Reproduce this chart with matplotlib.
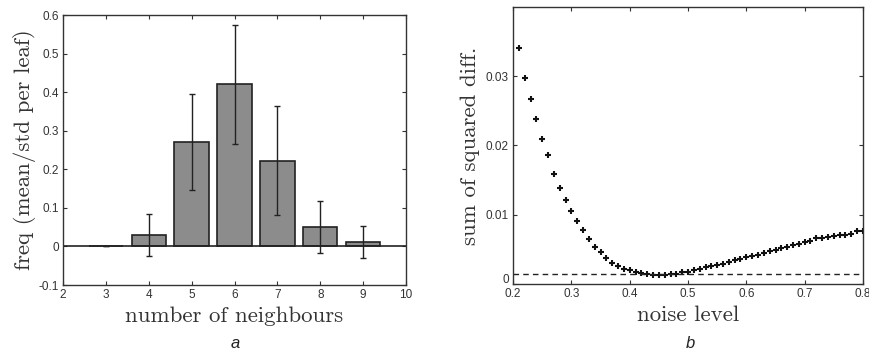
import matplotlib
matplotlib.use("Agg")
import matplotlib.pyplot as plt
from matplotlib.transforms import ScaledTranslation

# panel a: neighbour counts
neighbours = [3, 4, 5, 6, 7, 8, 9]
freq_mean = [0.0, 0.03, 0.27, 0.42, 0.222, 0.05, 0.012]
freq_std = [0.0, 0.055, 0.125, 0.155, 0.141, 0.068, 0.042]

# panel b: noise level scan
noise = [0.21, 0.22, 0.23, 0.24, 0.25, 0.26, 0.27, 0.28, 0.29, 0.30,
         0.31, 0.32, 0.33, 0.34, 0.35, 0.36, 0.37, 0.38, 0.39, 0.40,
         0.41, 0.42, 0.43, 0.44, 0.45, 0.46, 0.47, 0.48, 0.49, 0.50,
         0.51, 0.52, 0.53, 0.54, 0.55, 0.56, 0.57, 0.58, 0.59, 0.60,
         0.61, 0.62, 0.63, 0.64, 0.65, 0.66, 0.67, 0.68, 0.69, 0.70,
         0.71, 0.72, 0.73, 0.74, 0.75, 0.76, 0.77, 0.78, 0.79, 0.80]
sq_diff = [0.0341, 0.0298, 0.0267, 0.0238, 0.0210, 0.0186, 0.0159, 0.0139, 0.0122, 0.0106,
           0.0091, 0.0078, 0.0065, 0.0054, 0.0046, 0.0038, 0.0031, 0.0026, 0.0022, 0.0020,
           0.0018, 0.0016, 0.0014, 0.0013, 0.0013, 0.0013, 0.0014, 0.0015, 0.0017, 0.0018,
           0.0020, 0.0022, 0.0024, 0.0026, 0.0028, 0.0029, 0.0032, 0.0034, 0.0036, 0.0039,
           0.0040, 0.0042, 0.0045, 0.0047, 0.0049, 0.0052, 0.0054, 0.0056, 0.0058, 0.0061,
           0.0062, 0.0066, 0.0067, 0.0068, 0.0070, 0.0071, 0.0071, 0.0072, 0.0077, 0.0076]
baseline = 0.0014

tick_font = dict(family="Liberation Sans", size=8.5, color="#333333")
label_font = dict(family="cmr10", size=16.5, color="#333333")

fig = plt.figure(figsize=(8.69, 3.52), dpi=100)
ax_a = fig.add_axes([63 / 869, 67 / 352, 343 / 869, 270 / 352])
ax_b = fig.add_axes([513 / 869, 68 / 352, 350 / 869, 277 / 352])

for ax in (ax_a, ax_b):
    ax.tick_params(direction="in", top=True, right=True, length=3,
                   width=0.8, color="#333333", pad=3)
    for sp in ax.spines.values():
        sp.set_color("#333333")
        sp.set_linewidth(1.0)

# panel a
ax_a.bar(neighbours, freq_mean, width=0.8, color="#8c8c8c",
         edgecolor="#222222", linewidth=1.2)
ax_a.errorbar(neighbours, freq_mean, yerr=freq_std, fmt="none",
              ecolor="#222222", elinewidth=1.0, capsize=2, capthick=1.0)
ax_a.axhline(0, color="#222222", linewidth=1.2)
ax_a.set_xlim(2, 10)
ax_a.set_ylim(-0.1, 0.6)
ax_a.set_xticks(range(2, 11))
ax_a.set_yticks([-0.1, 0, 0.1, 0.2, 0.3, 0.4, 0.5, 0.6])
ax_a.set_yticklabels(["-0.1", "0", "0.1", "0.2", "0.3", "0.4", "0.5", "0.6"])
ax_a.set_xticklabels([str(v) for v in range(2, 11)])
for lab in ax_a.get_xticklabels() + ax_a.get_yticklabels():
    lab.set(**tick_font)
ax_a.set_xlabel("number of neighbours", labelpad=4, **label_font)
ax_a.set_ylabel("freq (mean/std per leaf)", labelpad=2, **label_font)

# panel b
ax_b.plot(noise, sq_diff, linestyle="none", marker="+", markersize=4,
          markeredgewidth=1.5, color="#111111")
ax_b.axhline(baseline, color="#222222", linewidth=1.0, linestyle=(0, (4, 3)))
ax_b.set_xlim(0.2, 0.8)
ax_b.set_ylim(0, 0.04)
ax_b.set_xticks([0.2, 0.3, 0.4, 0.5, 0.6, 0.7, 0.8])
ax_b.set_xticklabels(["0.2", "0.3", "0.4", "0.5", "0.6", "0.7", "0.8"])
ax_b.set_yticks([0, 0.01, 0.02, 0.03])
ax_b.set_yticklabels(["0", "0.01", "0.02", "0.03"])
for lab in ax_b.get_xticklabels() + ax_b.get_yticklabels():
    lab.set(**tick_font)
# the "0" label sits a little above the axis in the original
zero_lab = ax_b.get_yticklabels()[0]
zero_lab.set_transform(zero_lab.get_transform()
                       + ScaledTranslation(0, 4 / 72, fig.dpi_scale_trans))
ax_b.set_xlabel("noise level", labelpad=4, **label_font)
ax_b.set_ylabel("sum of squared diff.", labelpad=4, **label_font)

fig.text(235 / 869, 1 - 344 / 352, "a", ha="center", va="center",
         family="Liberation Sans", style="italic", size=12, color="#222222")
fig.text(690 / 869, 1 - 344 / 352, "b", ha="center", va="center",
         family="Liberation Sans", style="italic", size=12, color="#222222")

fig.savefig("out.png", dpi=100)
